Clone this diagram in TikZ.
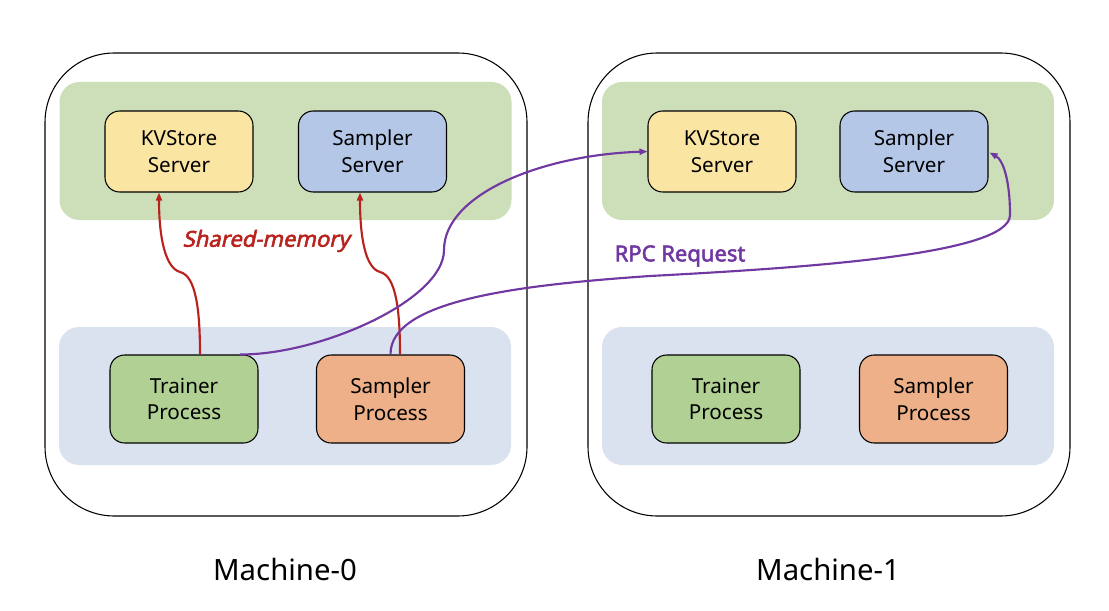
\documentclass[tikz,border=0pt]{standalone}
\usepackage{fontspec}
\setmainfont{Noto Sans}
\newfontfamily\lblboldfont[FakeBold=2.4]{Noto Sans}
\newfontfamily\lblbolditfont[FakeBold=2.4,FakeSlant=0.22]{Noto Sans}
\usetikzlibrary{arrows.meta,calc}
\definecolor{bandgreen}{RGB}{204,223,185}
\definecolor{bandblue}{RGB}{218,226,240}
\definecolor{kvyellow}{RGB}{251,229,163}
\definecolor{ssblue}{RGB}{180,199,231}
\definecolor{trgreen}{RGB}{177,209,148}
\definecolor{sporange}{RGB}{237,176,136}
\definecolor{shmred}{RGB}{185,35,30}
\definecolor{rpcpurple}{RGB}{112,56,160}
\begin{document}
\begin{tikzpicture}[x=0.75pt,y=-0.75pt,
  machine/.style={draw=black,line width=0.8pt,rounded corners=52pt,minimum width=361.5pt,minimum height=347.25pt,inner sep=0pt},
  band/.style={rounded corners=15pt,minimum width=339pt,minimum height=103.5pt,inner sep=0pt},
  box/.style={draw=black,line width=0.8pt,rounded corners=11pt,minimum width=111pt,inner sep=0pt,align=center,font=\fontsize{15.5}{20}\selectfont},
  server/.style={box,minimum height=60.75pt},
  proc/.style={box,minimum height=66pt},
  shm/.style={draw=shmred,line width=1.6pt,-{Triangle[length=6pt,width=4.5pt]}},
  rpc/.style={draw=rpcpurple,line width=1.6pt,-{Triangle[length=6pt,width=4.5pt]}},
  mlabel/.style={font=\fontsize{22}{26}\selectfont}
]
\useasboundingbox (0,0) rectangle (1109,610);
% machines
\node[machine] (m0) at (286,284.5) {};
\node[machine] (m1) at (829,284.5) {};
% bands
\node[band,fill=bandgreen] (g0) at (285.5,151) {};
\node[band,fill=bandblue] (b0) at (285,396) {};
\node[band,fill=bandgreen] (g1) at (828,151) {};
\node[band,fill=bandblue] (b1) at (828,396) {};
% boxes machine 0
\node[server,fill=kvyellow] (kv0) at (179,151.5) {KVStore\\Server};
\node[server,fill=ssblue] (ss0) at (372.5,151.5) {Sampler\\Server};
\node[proc,fill=trgreen] (tr0) at (184,399) {Trainer\\Process};
\node[proc,fill=sporange] (sp0) at (390.5,399) {Sampler\\Process};
% boxes machine 1
\node[server,fill=kvyellow] (kv1) at (722,151.5) {KVStore\\Server};
\node[server,fill=ssblue] (ss1) at (914,151.5) {Sampler\\Server};
\node[proc,fill=trgreen] (tr1) at (726,399) {Trainer\\Process};
\node[proc,fill=sporange] (sp1) at (933.5,399) {Sampler\\Process};
% shared-memory arrows
\draw[shm] ($(tr0.north)+(16,0)$) .. controls (200,310) and (196,276) .. (180,272)
  .. controls (166,268) and (159,240) .. ($(kv0.south)+(-20,0)$);
\draw[shm] ($(sp0.north)+(9.5,0)$) .. controls (400,310) and (396,276) .. (380,272)
  .. controls (366,268) and (360,240) .. ($(ss0.south)+(-12.5,0)$);
\node[text=shmred,font=\fontsize{16.5}{19}\lblbolditfont] (shmlabel) at (266,241) {Shared-memory};
% RPC arrows
\draw[rpc] ($(tr0.north)+(56,0)$) .. controls (320,355) and (444,300) .. (444,250)
  .. controls (444,195) and (540,155) .. (kv1.west);
\draw[rpc] (sp0.north) .. controls (390,300) and (520,285) .. (650,276)
  .. controls (800,268) and (1010,255) .. (1010,215)
  .. controls (1010,180) and (1003,160) .. ($(ss1.east)+(1,1)$);
\node[text=rpcpurple,font=\fontsize{16.5}{19}\lblboldfont] (rpclabel) at (680,256) {RPC Request};
% machine labels
\node[mlabel] (l0) at (285,569) {Machine-0};
\node[mlabel] (l1) at (828,569) {Machine-1};
\end{tikzpicture}
\end{document}
